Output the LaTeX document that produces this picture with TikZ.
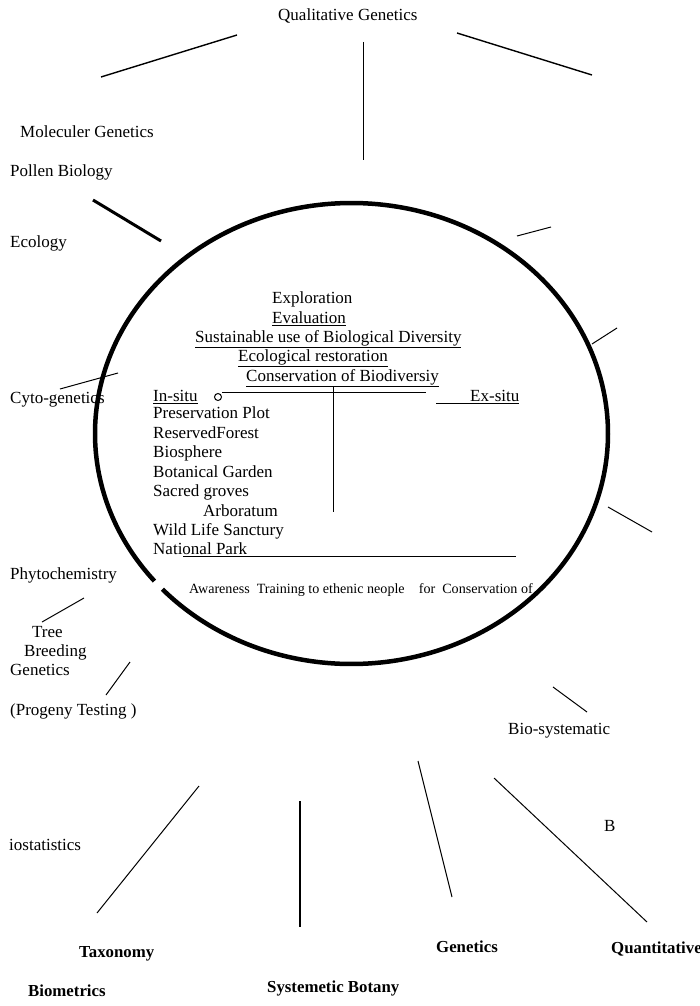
\documentclass[tikz,border=0pt]{standalone}
\usepackage{fontspec}
\setmainfont{Liberation Serif}
\begin{document}
\begin{tikzpicture}[x=1pt,y=-1pt,
  lbl/.style={anchor=base west,inner sep=0pt,font=\fontsize{17}{19}\selectfont},
  blbl/.style={lbl,font=\fontsize{16.8}{19}\selectfont\bfseries},
  small/.style={lbl,font=\fontsize{14.1}{16}\selectfont},
  ln/.style={line width=1pt},
  lnmid/.style={line width=1.4pt},
  lnthick/.style={line width=3pt},
  ring/.style={line width=4.5pt}]
\useasboundingbox (0,0) rectangle (700,1006);
% outer labels
\node[lbl] (qual) at (278,20.5) {Qualitative Genetics};
\node[lbl] (mol) at (20,137.5) {Moleculer Genetics};
\node[lbl] (pol) at (10,176.5) {Pollen Biology};
\node[lbl] (eco) at (10,247.5) {Ecology};
\node[lbl] (cyto) at (10,403.5) {Cyto-genetics};
\node[lbl] (phy) at (10,579.5) {Phytochemistry};
\node[lbl] (tree) at (32,637.5) {Tree};
\node[lbl] (breed) at (24,656.5) {Breeding};
\node[lbl] (gen1) at (10,675.5) {Genetics};
\node[lbl] (prog) at (10,715.5) {(Progeny Testing )};
\node[lbl] (biosys) at (508,734.5) {Bio-systematic};
\node[lbl] (bb) at (604,831.5) {B};
\node[lbl] (iost) at (9,850.5) {iostatistics};
\node[blbl] (gen2) at (436,952.5) {Genetics};
\node[blbl] (quant) at (611,953.5) {Quantitative};
\node[blbl] (tax) at (79,957.5) {Taxonomy};
\node[blbl] (biom) at (28,996.5) {Biometrics};
\node[blbl] (sysb) at (267,992.5) {Systemetic Botany};
% inner labels
\node[lbl] (expl) at (272,303.5) {Exploration};
\node[lbl] (eval) at (272,323.5) {\underline{Evaluation}};
\node[lbl] (sust) at (195,342.5) {\underline{Sustainable use of Biological Diversity}};
\node[lbl] (ecor) at (238,361.5) {\underline{Ecological restoration}};
\node[lbl] (cons) at (246,381.5) {\underline{Conservation of Biodiversiy}};
\node[lbl] (insitu) at (153,401.5) {\underline{In-situ}};
\node[lbl] (exsitu) at (436,401.5) {\underline{\hspace{34pt}Ex-situ}};
\node[lbl] (pres) at (153,418.5) {Preservation Plot};
\node[lbl] (resf) at (153,438.5) {ReservedForest};
\node[lbl] (bios) at (153,457.5) {Biosphere};
\node[lbl] (botg) at (153,477.5) {Botanical Garden};
\node[lbl] (sacr) at (153,496.5) {Sacred groves};
\node[lbl] (arbo) at (203,516.5) {Arboratum};
\node[lbl] (wild) at (153,535.5) {Wild Life Sanctury};
\node[lbl] (natp) at (153,554.5) {National Park};
\node[small] (aware) at (189,593) {Awareness~ Training to ethenic neople~~~ for~ Conservation of};
% small circle
\node[draw,circle,line width=1pt,minimum size=7pt,inner sep=0pt] (circ) at (218,397) {};
% inner lines
\coordinate (h2) at (426,392);
\draw[ln] (circ.east |- h2) -- (h2);
\coordinate (v1) at (333,386);
\coordinate (v2) at (333,512);
\draw[ln] (v1) -- (v2);
\coordinate (np1) at (183,556);
\coordinate (np2) at (516,556);
\draw[ln] (np1) -- (np2);
% ellipse with gap
\draw[ring] plot[domain=140.2:497.5,samples=360,smooth] ({351.5+256.5*cos(\x)},{433.5+230.5*sin(\x)});
% outer lines
\coordinate (a1) at (101,77); \coordinate (a2) at (237,35);
\draw[lnmid] (a1) -- (a2);
\coordinate (b1) at (363,42); \coordinate (b2) at (363,160);
\draw[ln] (b1) -- (b2);
\coordinate (c1) at (457,33); \coordinate (c2) at (592,75);
\draw[lnmid] (c1) -- (c2);
\coordinate (d1) at (93,200); \coordinate (d2) at (161,241);
\draw[lnthick] (d1) -- (d2);
\coordinate (e1) at (517,236); \coordinate (e2) at (551,227);
\draw[ln] (e1) -- (e2);
\coordinate (f1) at (592,344); \coordinate (f2) at (617,328);
\draw[ln] (f1) -- (f2);
\coordinate (g1) at (60,389); \coordinate (g2) at (118,373);
\draw[ln] (g1) -- (g2);
\coordinate (h1) at (608,507); \coordinate (h3) at (652,532);
\draw[ln] (h1) -- (h3);
\coordinate (i1) at (42,622); \coordinate (i2) at (84,598);
\draw[ln] (i1) -- (i2);
\coordinate (j1) at (106,695); \coordinate (j2) at (130,662);
\draw[ln] (j1) -- (j2);
\coordinate (k1) at (553,687); \coordinate (k2) at (587,712);
\draw[ln] (k1) -- (k2);
\coordinate (l1) at (418,761); \coordinate (l2) at (452,897);
\draw[ln] (l1) -- (l2);
\coordinate (m1) at (494,778); \coordinate (m2) at (647,922);
\draw[ln] (m1) -- (m2);
\coordinate (n1) at (97,913); \coordinate (n2) at (199,786);
\draw[ln] (n1) -- (n2);
\coordinate (o1) at (300,801); \coordinate (o2) at (300,927);
\draw[line width=2pt] (o1) -- (o2);
\end{tikzpicture}
\end{document}
